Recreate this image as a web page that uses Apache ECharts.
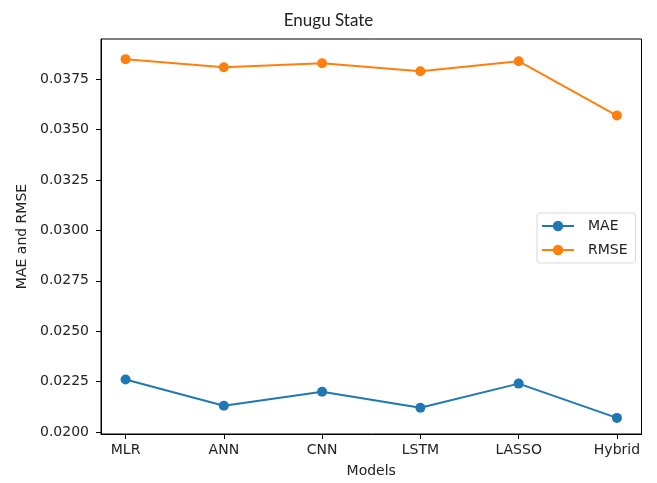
<!DOCTYPE html>
<html>
<head>
<meta charset="utf-8">
<script src="https://cdn.jsdelivr.net/npm/echarts@6/dist/echarts.min.js"></script>
<style>
html,body{margin:0;padding:0;background:#fff;}
#chart{width:657px;height:483px;}
</style>
</head>
<body>
<div id="chart"></div>
<script>
const categories = ['MLR', 'ANN', 'CNN', 'LSTM', 'LASSO', 'Hybrid'];
const maeValues = [0.0226, 0.0213, 0.0220, 0.0212, 0.0224, 0.0207];
const rmseValues = [0.0385, 0.0381, 0.0383, 0.0379, 0.0384, 0.0357];
const yTicks = [0.0200, 0.0225, 0.0250, 0.0275, 0.0300, 0.0325, 0.0350, 0.0375];
const xTicks = [0, 1, 2, 3, 4, 5];

const font = 'DejaVu Sans';
const chart = echarts.init(document.getElementById('chart'), null, {renderer: 'canvas'});
const toPairs = arr => arr.map((v, i) => [i, v]);

chart.setOption({
  animation: false,
  backgroundColor: '#ffffff',
  title: {
    text: 'Enugu State',
    left: 'center',
    top: 7,
    textStyle: {fontFamily: 'Lato', fontSize: 17, fontWeight: 'normal', color: '#222'}
  },
  grid: {
    left: 101, right: 15.5, top: 39, bottom: 49,
    show: true, borderColor: '#000', borderWidth: 1, backgroundColor: 'transparent'
  },
  legend: {
    data: ['MAE', 'RMSE'],
    orient: 'vertical',
    left: 537, top: 213,
    padding: [6, 8, 6, 4],
    itemGap: 10,
    itemWidth: 32, itemHeight: 13,
    borderColor: '#d9d9d9', borderWidth: 1, borderRadius: 3,
    backgroundColor: '#fff',
    textStyle: {fontFamily: font, fontSize: 14, color: '#222', padding: [0, 0, 0, 9]}
  },
  xAxis: {
    type: 'value',
    min: -0.25, max: 5.25,
    name: 'Models',
    nameLocation: 'middle',
    nameGap: 30,
    nameTextStyle: {fontFamily: font, fontSize: 14, color: '#222'},
    axisLine: {show: true, onZero: false, lineStyle: {color: '#000', width: 1}},
    axisTick: {show: true, length: 5, lineStyle: {color: '#000'}, customValues: xTicks},
    axisLabel: {
      customValues: xTicks, margin: 9,
      fontFamily: font, fontSize: 14, color: '#222',
      formatter: v => categories[Math.round(v)]
    },
    splitLine: {show: false}
  },
  yAxis: {
    type: 'value',
    min: 0.0199, max: 0.0395,
    name: 'MAE and RMSE',
    nameLocation: 'middle',
    nameGap: 72,
    nameRotate: 90,
    nameTextStyle: {fontFamily: font, fontSize: 14, color: '#222'},
    axisLine: {show: true, onZero: false, lineStyle: {color: '#000', width: 1}},
    axisTick: {show: true, length: 5, lineStyle: {color: '#000'}, customValues: yTicks},
    axisLabel: {
      customValues: yTicks, margin: 12,
      fontFamily: font, fontSize: 14, color: '#222',
      formatter: v => v.toFixed(4)
    },
    splitLine: {show: false}
  },
  series: [
    {
      name: 'MAE', type: 'line', data: toPairs(maeValues),
      symbol: 'circle', symbolSize: 10,
      lineStyle: {color: '#1f77b4', width: 2},
      itemStyle: {color: '#1f77b4'}
    },
    {
      name: 'RMSE', type: 'line', data: toPairs(rmseValues),
      symbol: 'circle', symbolSize: 10,
      lineStyle: {color: '#ff7f0e', width: 2},
      itemStyle: {color: '#ff7f0e'}
    }
  ]
});
</script>
</body>
</html>
